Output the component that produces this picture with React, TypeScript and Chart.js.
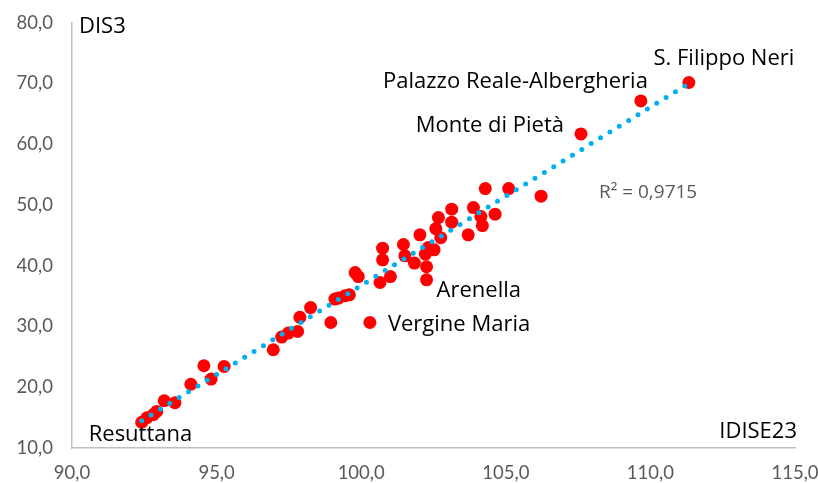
import React, { useEffect, useRef } from 'react';
import { Chart, registerables } from 'chart.js';
Chart.register(...registerables);

// IDISE23 (x) values
const idise23 = [
  92.41, 92.59, 92.81, 92.93, 93.19, 93.56, 94.11, 94.56, 94.81, 95.26,
  96.96, 97.25, 97.48, 97.80, 97.88, 98.25, 98.95, 99.09, 99.21, 99.44,
  99.59, 99.79, 99.90, 100.30, 100.65, 100.74, 100.74, 101.01, 101.46, 101.51,
  101.84, 102.03, 102.22, 102.26, 102.26, 102.52, 102.32, 102.58, 102.75, 102.67,
  103.13, 103.13, 103.70, 103.88, 104.14, 104.19, 104.29, 104.63, 105.10, 106.22,
  107.60, 109.67, 111.33,
];
// DIS3 (y) values
const dis3 = [
  14.24, 14.98, 15.48, 16.02, 17.78, 17.45, 20.49, 23.54, 21.35, 23.42,
  26.17, 28.26, 28.91, 29.18, 31.51, 33.12, 30.66, 34.51, 34.67, 35.05,
  35.21, 38.88, 38.22, 30.66, 37.24, 40.97, 42.89, 38.22, 43.49, 41.63,
  40.43, 45.09, 41.92, 39.83, 37.68, 42.62, 43.00, 46.10, 44.62, 47.93,
  49.31, 47.17, 45.09, 49.57, 48.09, 46.61, 52.70, 48.49, 52.70, 51.45,
  61.69, 67.12, 70.16,
];

const labelNames = ['Resuttana', 'Vergine Maria', 'Arenella', 'Monte di Pietà', 'Palazzo Reale-Albergheria', 'S. Filippo Neri'];
const labelIndex = [0, 23, 34, 50, 51, 52];
const r2Text = 'R² = 0,9715';
const xTitle = 'IDISE23';
const yTitle = 'DIS3';

const xMin = 90, xMax = 115, xStep = 5;
const yMin = 10, yMax = 80, yStep = 10;

// label placement (pixels relative to the point)
const labelPlacement = [
  { dx: -53, dy: 19, align: 'left' },
  { dx: 18, dy: 9, align: 'left' },
  { dx: 10, dy: 17, align: 'left' },
  { dx: -17, dy: -2, align: 'right' },
  { dx: 7, dy: -13, align: 'right' },
  { dx: 35, dy: -17, align: 'center' },
];

const TICK_FONT = 'Lato';
const LABEL_FONT = '"Open Sans"';

function regression(xs: number[], ys: number[]) {
  const n = xs.length;
  let sx = 0, sy = 0, sxx = 0, sxy = 0;
  for (let i = 0; i < n; i++) { sx += xs[i]; sy += ys[i]; sxx += xs[i] * xs[i]; sxy += xs[i] * ys[i]; }
  const m = (n * sxy - sx * sy) / (n * sxx - sx * sx);
  const b = (sy - m * sx) / n;
  return { m, b };
}

const fmt = (v: number) => v.toFixed(1).replace('.', ',');

export default function App() {
  const ref = useRef<HTMLCanvasElement>(null);
  useEffect(() => {
    const { m, b } = regression(idise23, dis3);
    const lo = Math.min(...idise23), hi = Math.max(...idise23);
    const textPlugin = {
      id: 'texts',
      afterDraw(chart: any) {
        const ctx = chart.ctx;
        const xs = chart.scales.x, ys = chart.scales.y;
        const area = chart.chartArea;
        ctx.save();
        ctx.fillStyle = '#000';
        ctx.textBaseline = 'alphabetic';
        ctx.font = `22px ${LABEL_FONT}`;
        labelNames.forEach((name, k) => {
          const i = labelIndex[k];
          const p = labelPlacement[k];
          ctx.textAlign = p.align;
          ctx.fillText(name, xs.getPixelForValue(idise23[i]) + p.dx, ys.getPixelForValue(dis3[i]) + p.dy);
        });
        ctx.textAlign = 'left';
        ctx.fillText(yTitle, area.left + 7, area.top + 10);
        ctx.textAlign = 'right';
        ctx.fillText(xTitle, area.right + 2, area.bottom - 10);
        ctx.fillStyle = '#595959';
        ctx.font = `19px ${LABEL_FONT}`;
        ctx.textAlign = 'left';
        ctx.fillText(r2Text, xs.getPixelForValue(108.22), ys.getPixelForValue(51.17));
        ctx.restore();
      },
    };
    const chart = new Chart(ref.current!, {
      type: 'scatter',
      data: {
        datasets: [
          {
            type: 'line',
            data: [{ x: lo, y: m * lo + b }, { x: hi, y: m * hi + b }],
            borderColor: '#00B0F0',
            borderWidth: 5,
            borderDash: [0, 11],
            borderCapStyle: 'round',
            pointRadius: 0,
            fill: false,
            order: 0,
          } as any,
          {
            data: idise23.map((x, i) => ({ x, y: dis3[i] })),
            backgroundColor: '#FF0000',
            borderWidth: 0,
            pointRadius: 6.5,
            order: 1,
          },
        ],
      },
      options: {
        animation: false,
        responsive: false,
        maintainAspectRatio: false,
        devicePixelRatio: 1,
        layout: { padding: { left: 0, right: 23, top: 22.7, bottom: 0 }, autoPadding: false },
        plugins: { legend: { display: false }, tooltip: { enabled: false } },
        scales: {
          x: {
            type: 'linear', min: xMin, max: xMax,
            grid: { display: false, drawTicks: false },
            border: { display: true, color: '#BFBFBF', width: 1.5 },
            ticks: { stepSize: xStep, callback: (v: any) => fmt(Number(v)), color: '#595959', font: { family: TICK_FONT, size: 18.5 }, padding: 14, maxRotation: 0 },
            afterFit: (s: any) => { s.height = 35; s.paddingLeft = 0; s.paddingRight = 0; s.paddingTop = 0; s.paddingBottom = 0; },
          },
          y: {
            type: 'linear', min: yMin, max: yMax,
            grid: { display: false, drawTicks: false },
            border: { display: true, color: '#BFBFBF', width: 1.5 },
            ticks: { stepSize: yStep, callback: (v: any) => fmt(Number(v)), color: '#595959', font: { family: TICK_FONT, size: 18.5 }, padding: 19 },
            afterFit: (s: any) => { s.width = 72; s.paddingLeft = 0; s.paddingRight = 0; s.paddingTop = 0; s.paddingBottom = 0; },
          },
        },
      } as any,
      plugins: [textPlugin],
    });
    return () => chart.destroy();
  }, []);
  return (
    <div style={{ position: 'fixed', left: 0, top: 0, width: 818, height: 483, background: '#fff' }}>
      <canvas ref={ref} width={818} height={483} style={{ width: 818, height: 483, display: 'block' }} />
    </div>
  );
}
